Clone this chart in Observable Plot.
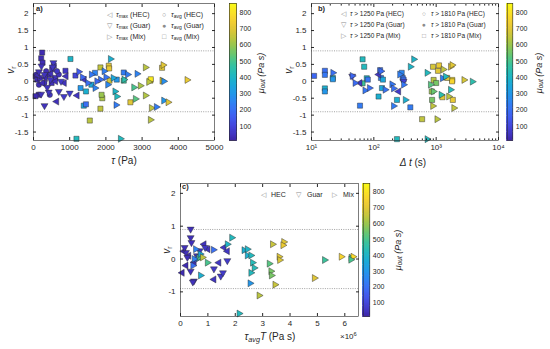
<!DOCTYPE html>
<html><head><meta charset="utf-8">
<script src="https://cdn.jsdelivr.net/npm/d3@7"></script>
<script src="https://cdn.jsdelivr.net/npm/@observablehq/plot@0.6"></script>
<style>
body{margin:0;background:#fff;font-family:"Liberation Sans",Arial,sans-serif;}
#wrap{position:relative;width:550px;height:349px;overflow:hidden;background:#fff;}
.t{position:absolute;white-space:nowrap;color:#262626;line-height:1;}
.t sub{font-size:72%;vertical-align:-0.3em;line-height:0;}
.t sup{font-size:72%;vertical-align:0.45em;line-height:0;}
.mk{color:#8c8c8c;}
</style></head>
<body><div id="wrap"></div>
<script>
// ---------------- DATA ----------------
const muDomain = [14, 855];
const muTicks = [100, 200, 300, 400, 500, 600, 700, 800];
const vDomain = [-1.75, 2.3];
const vTicksAB = [-1.5, -1, -0.5, 0, 0.5, 1, 1.5, 2];
const vTicksC = [-1, 0, 1, 2];
const thresholds = [0.9, -0.9];
const tauTicks = [0, 1000, 2000, 3000, 4000, 5000];
const dtTicks = [10, 100, 1000, 10000];
const dtTickLabels = ["10¹", "10²", "10³", "10⁴"];
const TTicks = [0, 1, 2, 3, 4, 5, 6];

// panel a: [tau (Pa), v_r, mu_out]
const aHecMax = [[120,0.18,30],[250,-0.05,35],[330,0.1,30],[480,0.22,40],[610,0.0,45],[850,-0.05,50],[1205,-0.42,55],[1400,0.05,60],[640,-0.6,40],[900,0.15,50]];
const aGuarMax = [[150,0.28,40],[220,0.45,45],[304,-0.72,50],[420,-0.32,55],[550,0.55,60],[530,0.42,55],[210,-0.38,45],[380,-0.18,50],[760,0.0,70],[1000,-0.35,80],[470,0.05,55],[300,0.2,50],[840,-0.45,65],[700,-0.3,60]];
const aMixMax = [[1250,0.28,150],[1350,0.12,180],[1500,-0.05,200],[1600,0.2,220],[1700,-0.2,250],[1850,0.05,200],[1950,0.3,240],[2050,-0.1,260],[2125,0.66,380],[2200,0.1,350],[2250,-0.3,400],[2300,-0.45,420],[2280,-0.7,230],[2401,-1.7,420],[2500,0.05,450],[2600,0.2,230],[2770,-0.18,500],[2815,-0.52,520],[2861,0.22,250],[2950,-0.13,620],[3091,0.41,640],[3091,-0.42,630],[3183,-0.02,640],[3229,-1.14,640],[3257,-0.79,650],[3395,-0.76,230],[3551,0.02,700],[3579,0.48,700],[3597,-0.57,300],[3597,0.0,280],[3717,-0.62,700],[4241,0.04,720],[2000,0.12,210],[1750,0.0,180]];
const aHecAvg = [[80,0.2,30],[350,0.3,35],[700,0.2,45],[150,-0.1,30]];
const aGuarAvg = [[300,-0.05,50],[650,0.3,60],[450,-0.4,55]];
const aMixAvg = [[239,0.85,30],[212,0.68,30],[250,0.55,35],[60,0.15,25],[100,0.05,25],[180,0.1,30],[140,-0.4,25],[55,-0.44,30],[515,0.36,40],[561,0.46,45],[600,0.1,50],[1021,0.66,400],[883,0.31,60],[1159,0.17,100],[1389,-0.72,350],[1450,-0.68,200],[1555,-1.16,640],[1187,-1.7,420],[1849,0.41,650],[2079,0.46,700],[2090,0.38,720],[1849,-0.81,650],[1900,-0.5,620],[1880,-0.4,600],[1300,-0.2,300],[1450,-0.3,380],[1600,-0.1,350],[2100,0.02,680],[2493,0.26,230],[2493,0.02,480],[2677,-0.62,700],[3229,0.02,800],[3240,0.06,820],[3551,0.4,700],[2300,0.05,300],[1700,0.25,250],[500,-0.05,40],[420,0.2,35]];

// panel b: [delta t (s), v_r, mu_out]
const bHec1250 = [[120,0.2,60],[60,-0.05,55],[250,-0.3,70]];
const bGuar1250 = [[45,0.15,80],[300,0.0,90]];
const bMix1250 = [[22,0.25,200],[45,0.16,180],[50,-0.05,190],[72,-0.27,220],[85,-0.2,200],[152,-0.25,210],[195,-0.09,220],[207,-0.73,230],[207,-0.21,200],[260,0.2,240],[300,-0.1,220],[320,-0.55,380],[385,0.43,400],[436,0.65,400],[715,0.25,420],[810,-0.1,520],[900,-0.3,540],[880,-0.73,650],[1030,-1.12,640],[1260,0.09,230],[1410,0.14,420],[1590,-0.45,640],[1700,-0.25,430],[1700,0.43,720],[1800,0.48,700],[1920,-0.79,650],[2790,0.04,680],[3800,-0.01,450],[715,-1.71,420],[1200,-0.4,450],[1300,0.35,650],[130,0.3,190]];
const bMix1810 = [[11,0.16,180],[16.4,0.31,200],[16.4,0.19,220],[16.4,-0.21,380],[16.4,-0.3,300],[22,0.1,380],[22,0.06,300],[60,-0.72,230],[66,0.65,420],[70,0.43,420],[66,-0.06,480],[77,0.09,400],[80,0.05,220],[119,-0.45,380],[126,0.33,200],[130,0.1,240],[140,0.05,350],[135,-0.2,350],[235,-0.55,380],[235,-1.71,420],[280,0.25,260],[290,0.1,220],[300,0.05,200],[385,-0.77,230],[860,-0.55,560],[910,0.04,640],[890,0.43,680],[1070,0.31,700],[1110,0.47,720],[1260,-0.47,700],[1810,0.04,800],[1850,-0.55,720],[1800,0.0,760],[595,-1.12,650],[850,-0.3,600],[1000,-0.05,560],[1500,0.1,700]];

// panel c: [tau_avg*T (x10^6 Pa s), v_r, mu_out]
const cHec = [[0.12,0.24,30],[0.06,-0.42,30],[0.3,0.1,35],[0.5,-0.1,40],[0.86,0.45,50],[1.0,0.3,50],[1.4,-0.11,60],[1.59,0.35,60],[1.71,0.24,60],[1.22,-0.62,55],[0.2,-0.2,30]];
const cGuar = [[0.37,0.91,40],[0.37,0.65,40],[0.4,0.5,45],[0.2,0.2,45],[0.49,-0.67,50],[0.45,-0.7,50],[0.37,-0.37,45],[0.6,0.1,55],[0.9,0.35,60],[1.22,-0.3,65],[1.47,-0.52,70],[1.55,-0.42,70],[1.71,-0.05,70],[0.25,0.05,40],[0.15,0.35,40],[0.7,0.25,60]];
const cMix = [[0.55,0.3,250],[0.6,0.0,200],[0.67,0.04,500],[0.72,0.15,350],[0.73,-0.5,380],[0.98,-0.11,500],[1.2,0.28,200],[1.71,0.45,400],[1.87,0.65,420],[2.32,0.27,380],[2.44,0.3,400],[2.44,0.11,380],[2.57,0.11,420],[2.63,-0.11,430],[2.69,-0.27,430],[2.57,-0.42,420],[2.54,-0.74,300],[2.87,-1.11,640],[2.14,-1.66,420],[3.24,-0.14,520],[3.3,-0.37,560],[3.32,-0.5,560],[3.36,0.45,660],[3.45,-0.78,660],[3.6,0.07,700],[3.62,-0.03,690],[3.77,0.52,700],[3.74,0.42,720],[4.89,-0.58,700],[5.26,-0.03,480],[5.87,0.07,760],[6.23,0.04,520],[6.3,0.07,780],[6.22,-0.02,500],[0.5,0.0,250],[0.45,-0.2,200],[0.8,0.05,650]];

const legendA1 = ["<i>τ</i><sub>max</sub> (HEC)", "<i>τ</i><sub>max</sub> (Guar)", "<i>τ</i><sub>max</sub> (Mix)"];
const legendA2 = ["<i>τ</i><sub>avg</sub> (HEC)", "<i>τ</i><sub>avg</sub> (Guar)", "<i>τ</i><sub>avg</sub> (Mix)"];
const legendB1 = ["<i>τ</i> &gt; 1250 Pa (HEC)", "<i>τ</i> &gt; 1250 Pa (Guar)", "<i>τ</i> &gt; 1250 Pa (Mix)"];
const legendB2 = ["<i>τ</i> &gt; 1810 Pa (HEC)", "<i>τ</i> &gt; 1810 Pa (Guar)", "<i>τ</i> &gt; 1810 Pa (Mix)"];
const legendC = ["HEC", "Guar", "Mix"];
const markers1 = ["◁", "▽", "▷"];
const markers2 = ["○", "●", "□"];

// ---------------- STYLE ----------------
const parula = d3.interpolateRgbBasis(["#3e26a8","#4852f4","#2d87f7","#11b1d6","#37c897","#abc639","#fec338","#f9fb15"]);
const colorScale = {type: "linear", domain: muDomain, interpolate: parula};
const K = Math.sqrt(3);
function tri(dir) {
  return {draw(ctx, size) {
    const a = Math.sqrt(size / (3 * K));
    if (dir === "left") { ctx.moveTo(-2*a, 0); ctx.lineTo(a, -K*a); ctx.lineTo(a, K*a); }
    else if (dir === "right") { ctx.moveTo(2*a, 0); ctx.lineTo(-a, -K*a); ctx.lineTo(-a, K*a); }
    else { ctx.moveTo(0, 2*a); ctx.lineTo(-K*a, -a); ctx.lineTo(K*a, -a); }
    ctx.closePath();
  }};
}
const symL = tri("left"), symR = tri("right"), symD = tri("down");
const wrap = document.getElementById("wrap");
const baseStyle = {fontFamily: "'Liberation Sans', Arial, sans-serif", fontSize: "8px", color: "#262626", background: "transparent", overflow: "visible"};
const fmt = d => String(d);

function place(svg, left, top) {
  svg.style.position = "absolute"; svg.style.left = left + "px"; svg.style.top = top + "px";
  svg.style.maxWidth = "none";
  wrap.appendChild(svg);
}
function txt(html, x, y, {size = 8, anchor = "left", rotate = false, bold = false, cls = ""} = {}) {
  const d = document.createElement("div");
  d.className = "t " + cls;
  d.innerHTML = html;
  d.style.left = x + "px"; d.style.top = y + "px";
  d.style.fontSize = size + "px";
  if (bold) d.style.fontWeight = "bold";
  let tr = anchor === "center" ? "translate(-50%,-50%)" : "translate(0,-50%)";
  if (rotate) tr = "translate(-50%,-50%) rotate(-90deg)";
  d.style.transform = tr;
  wrap.appendChild(d);
}
function dots(data, symbol, r) {
  return Plot.dot(data, {x: d => d[0], y: d => d[1], fill: d => d[2], symbol, r, stroke: "#2a2a2a", strokeWidth: 0.45});
}
function boxAxes(xTicks, xFmt, yTicks, minor) {
  const m = [
    Plot.axisX({ticks: xTicks, tickFormat: xFmt, anchor: "bottom", tickSize: -3, tickPadding: 7, label: null, fontSize: 8}),
    Plot.axisX({ticks: xTicks, tickFormat: () => "", anchor: "top", tickSize: -3, label: null}),
    Plot.axisY({ticks: yTicks, tickFormat: fmt, anchor: "left", tickSize: -3, tickPadding: 8, label: null, fontSize: 8}),
    Plot.axisY({ticks: yTicks, tickFormat: () => "", anchor: "right", tickSize: -3, label: null}),
    Plot.frame({stroke: "#262626", strokeWidth: 0.6})
  ];
  if (minor) {
    m.push(Plot.axisX({ticks: minor, tickFormat: () => "", anchor: "bottom", tickSize: -1.6, label: null}));
    m.push(Plot.axisX({ticks: minor, tickFormat: () => "", anchor: "top", tickSize: -1.6, label: null}));
  }
  return m;
}
function colorbar(left, top, width, height, mL, mR, mT, mB) {
  const n = 120, step = (muDomain[1] - muDomain[0]) / n;
  const steps = d3.range(n).map(i => muDomain[0] + i * step);
  const svg = Plot.plot({
    width, height, marginLeft: mL, marginRight: mR, marginTop: mT, marginBottom: mB,
    y: {domain: muDomain}, color: colorScale, style: baseStyle,
    marks: [
      Plot.rect(steps, {y1: d => d, y2: d => d + step, fill: d => d + step / 2, stroke: d => d + step / 2, strokeWidth: 0.8, shapeRendering: "crispEdges"}),
      Plot.axisY({ticks: muTicks, tickFormat: fmt, anchor: "right", tickSize: 0, tickPadding: 3, label: null, fontSize: 7}),
      Plot.frame({stroke: "#262626", strokeWidth: 0.6})
    ]
  });
  place(svg, left, top);
}
function panel(left, top, width, height, mL, mR, mT, mB, x, marks) {
  const svg = Plot.plot({
    width, height, marginLeft: mL, marginRight: mR, marginTop: mT, marginBottom: mB,
    x, y: {domain: vDomain}, color: colorScale, style: baseStyle,
    marks: [Plot.ruleY(thresholds, {stroke: "#8c8c8c", strokeWidth: 0.8, strokeDasharray: "1,1.3"}), ...marks]
  });
  place(svg, left, top);
}
function legend(items, marks, mx, tx, ys, size) {
  items.forEach((h, i) => {
    txt(marks[i], mx, ys[i], {size: size, anchor: "center", cls: "mk"});
    txt(h, tx, ys[i], {size: size});
  });
}

// ---------------- PANEL A ----------------
panel(0, 0, 225, 160, 33, 11, 3, 20, {domain: [0, 5000]}, [
  dots(aMixAvg, "square", 2.9), dots(aHecAvg, "circle", 2.7), dots(aGuarAvg, "circle", 2.7),
  dots(aHecMax, symL, 2.6), dots(aGuarMax, symD, 2.6), dots(aMixMax, symR, 2.6),
  ...boxAxes(tauTicks, fmt, vTicksAB)
]);
colorbar(200, 0, 60, 160, 29, 24, 3, 20);
txt("a)", 36, 9, {size: 7.5, bold: true});
legend(legendA1, markers1, 109, 116, [14, 25, 36], 7);
legend(legendA2, markers2, 164, 171, [14, 25, 36], 7);
txt("<i>v</i><sub>r</sub>", 11, 70, {size: 10, rotate: true});
txt("<i>τ</i> (Pa)", 124, 161, {size: 10, anchor: "center"});
txt("<i>μ</i><sub><i>out</i></sub> <i>(Pa s)</i>", 261, 73, {size: 9, rotate: true});

// ---------------- PANEL B ----------------
const minorB = [];
[10, 100, 1000].forEach(dec => d3.range(2, 10).forEach(m => minorB.push(m * dec)));
panel(278, 0, 225, 160, 33, 5, 3, 20, {type: "log", domain: [10, 10000]}, [
  dots(bMix1810, "square", 2.9),
  dots(bHec1250, symL, 2.6), dots(bGuar1250, symD, 2.6), dots(bMix1250, symR, 2.6),
  ...boxAxes(dtTicks, d => dtTickLabels[dtTicks.indexOf(d)], vTicksAB, minorB)
]);
colorbar(480, 0, 60, 160, 26.7, 27.7, 3, 20);
txt("b)", 318, 9, {size: 7.5, bold: true});
legend(legendB1, markers1, 343, 350, [14, 25, 36], 6.5);
legend(legendB2, markers2, 424, 431, [14, 25, 36], 6.5);
txt("<i>v</i><sub>r</sub>", 289, 70, {size: 10, rotate: true});
txt("<i>Δ t</i> (s)", 413, 163, {size: 10, anchor: "center"});
txt("<i>μ</i><sub><i>out</i></sub> <i>(Pa s)</i>", 539, 73, {size: 9, rotate: true});

// ---------------- PANEL C ----------------
panel(147, 180, 215, 155, 33, 4, 3, 19, {domain: [0, 6.5]}, [
  dots(cHec, symL, 2.6), dots(cGuar, symD, 2.6), dots(cMix, symR, 2.6),
  ...boxAxes(TTicks, fmt, vTicksC)
]);
colorbar(340, 180, 60, 155, 22.7, 30.7, 3, 19);
txt("c)", 182, 187, {size: 7.5, bold: true});
legendC.forEach((h, i) => {
  txt(markers1[i], [263, 298, 334][i], 193.5, {size: 7, anchor: "center", cls: "mk"});
  txt(h, [271, 307, 343][i], 193.5, {size: 7});
});
txt("<i>v</i><sub>r</sub>", 167, 250, {size: 10, rotate: true});
txt("<i>τ</i><sub><i>avg</i></sub><i>T</i> (Pa s)", 270, 337, {size: 10, anchor: "center"});
txt("×10<sup>6</sup>", 340, 337, {size: 8});
txt("<i>μ</i><sub><i>out</i></sub> <i>(Pa s)</i>", 398, 250, {size: 9, rotate: true});
</script></body></html>
